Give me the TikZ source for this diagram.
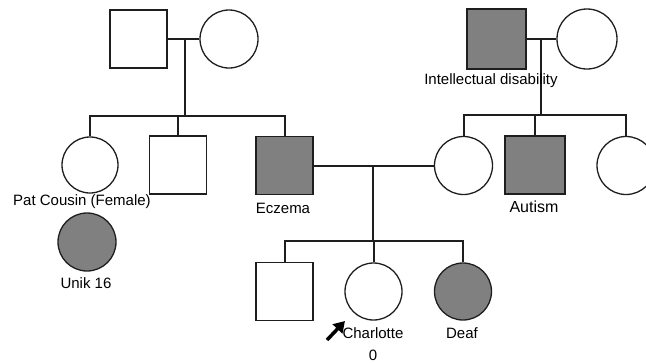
\documentclass[tikz,border=0pt]{standalone}
\usepackage{fontspec}
\setmainfont{Liberation Sans}
\usetikzlibrary{arrows.meta}
\definecolor{aff}{RGB}{128,128,128}
\definecolor{ln}{RGB}{30,30,30}
\begin{document}
\begin{tikzpicture}[x=1pt,y=-1pt,
  sq/.style={draw=ln,line width=1.6pt,rectangle,minimum width=57pt,minimum height=58pt,inner sep=0pt},
  ci/.style={draw=ln,line width=1.3pt,circle,minimum size=57pt,inner sep=0pt},
  affd/.style={fill=aff},
  lnk/.style={draw=ln,line width=2pt},
  lbl/.style={font=\fontsize{15}{17}\selectfont,inner sep=0pt}]
\useasboundingbox (0,0) rectangle (646,362);

% left grandparents
\node[sq] (lgf) at (138.5,39) {};
\node[ci,minimum size=58pt] (lgm) at (229,39) {};
\coordinate (lm) at (185,39);
\coordinate (ls) at (185,116);
\draw[lnk] (lgf.east) -- (lgm.west);
\draw[lnk] (lm) -- (ls);

% left children
\node[ci,minimum size=56pt] (pat) at (90,165) {};
\node[sq] (lsq) at (178,165) {};
\node[sq,affd] (ecz) at (284.5,165.5) {};
\draw[lnk] (pat.north) -- (pat.north |- ls) -- (ecz.north |- ls) -- (ecz.north);
\draw[lnk] (lsq.north) -- (lsq.north |- ls);

\node[lbl] (patl) at (82,202) {Pat Cousin (Female)};
\node[lbl] (eczl) at (283,208) {Eczema};

\node[ci,affd,minimum size=58pt] (unik) at (87,242) {};
\node[lbl] (unikl) at (86,283) {Unik 16};

% right grandparents
\node[sq,affd,minimum width=59pt,minimum height=60pt] (rgf) at (496.5,39) {};
\node[ci,minimum size=60pt] (rgm) at (587,39) {};
\coordinate (rm) at (541,39);
\coordinate (rs) at (541,115);
\draw[lnk] (rgf.east) -- (rgm.west);
\draw[lnk] (rm) -- (rs);
\node[lbl] (idl) at (491,81) {Intellectual disability};

% right children
\node[ci,minimum size=58pt] (mom) at (463.5,165.5) {};
\node[sq,affd,minimum width=60pt,minimum height=58pt] (aut) at (535,165) {};
\node[ci,minimum size=58pt] (rci) at (626,165.5) {};
\draw[lnk] (mom.north) -- (mom.north |- rs) -- (rci.north |- rs) -- (rci.north);
\draw[lnk] (aut.north) -- (aut.north |- rs);
\node[lbl,font=\fontsize{16}{18}\selectfont] (autl) at (534,207) {Autism};

% parents' marriage
\coordinate (pm) at (373,166);
\coordinate (ps) at (373,241);
\draw[lnk] (ecz.east) -- (mom.west);
\draw[lnk] (pm) -- (ps);

% grandchildren
\node[sq] (bsq) at (284.5,291.5) {};
\node[ci] (cha) at (373.5,291.5) {};
\node[ci,affd] (deaf) at (463,291.5) {};
\draw[lnk] (bsq.north) -- (bsq.north |- ps) -- (deaf.north |- ps) -- (deaf.north);
\draw[lnk] (cha.north) -- (cha.north |- ps);

\node[lbl] (chal) at (373,333) {Charlotte};
\node[lbl] (chaz) at (373,355) {0};
\node[lbl] (deafl) at (462,333) {Deaf};

% proband arrow
\coordinate (pa1) at (327,340);
\coordinate (pa2) at (345,321);
\draw[draw=black,line width=3.5pt,-{Triangle[length=11pt,width=13pt]}] (pa1) -- (pa2);
\end{tikzpicture}
\end{document}
